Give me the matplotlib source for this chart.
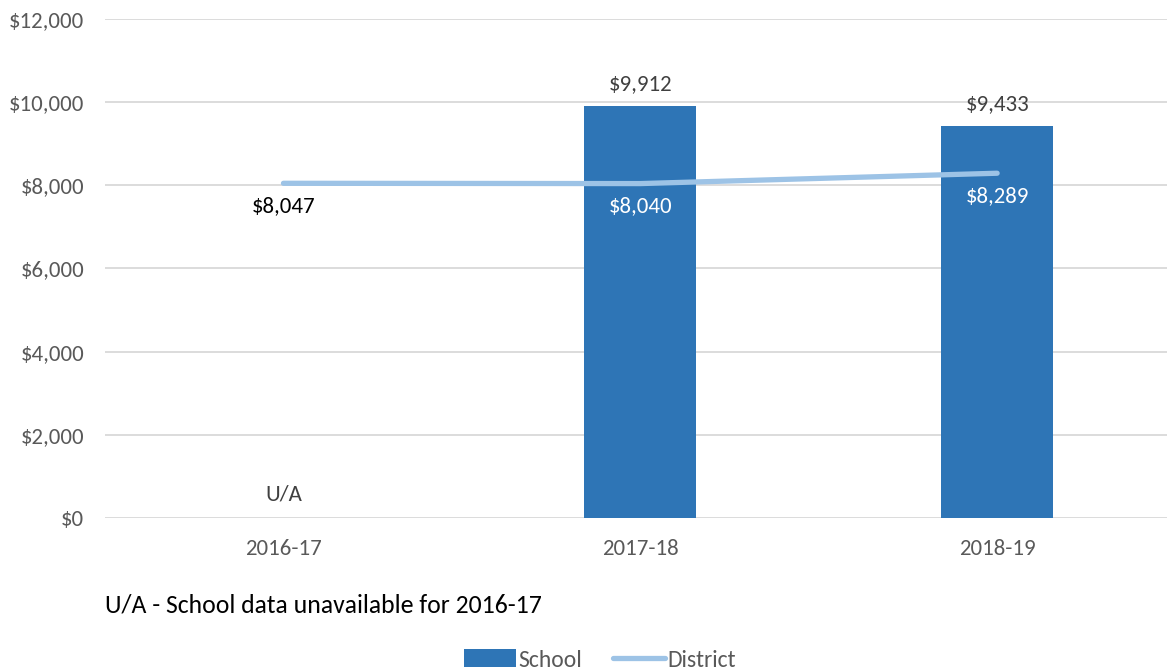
import matplotlib
matplotlib.use("Agg")
import matplotlib.pyplot as plt
import numpy as np

plt.rcParams['font.family'] = ['Carlito', 'Lato', 'DejaVu Sans']

years = ["2016-17", "2017-18", "2018-19"]
school = [np.nan, 9912, 9433]
district = [8047, 8040, 8289]
yticks = [0, 2000, 4000, 6000, 8000, 10000, 12000]

bar_color = "#2E75B6"
line_color = "#9DC3E6"

fig = plt.figure(figsize=(11.67, 6.72), dpi=100)
ax = fig.add_axes([0.09, 0.229, 0.91, 0.743])

x = np.arange(len(years))
bars = ax.bar(x, school, width=0.314, color=bar_color, label="School", zorder=2)
line, = ax.plot(x, district, color=line_color, lw=3.8, solid_capstyle="round", label="District", zorder=3)

for xi, v in zip(x, school):
    if np.isnan(v):
        ax.text(xi, 330, "U/A", ha="center", va="bottom", fontsize=16.5, color="#404040")
    else:
        ax.annotate(f"${v:,.0f}", (xi, v), xytext=(0, 8), textcoords="offset points",
                    ha="center", va="bottom", fontsize=16.5, color="#404040")

for xi, v in zip(x, district):
    c = "black" if np.isnan(school[xi]) else "white"
    ax.annotate(f"${v:,.0f}", (xi, v), xytext=(0, -9), textcoords="offset points",
                ha="center", va="top", fontsize=16.5, color=c)

ax.set_xlim(-0.5, 2.476)
ax.set_ylim(0, 12000)
ax.set_yticks(yticks)
ax.set_yticklabels([f"${t:,}" for t in yticks])
ax.set_xticks(x)
ax.set_xticklabels(years)
ax.tick_params(length=0, labelsize=16.5, colors="#595959")
ax.tick_params(axis="x", pad=15)
ax.tick_params(axis="y", pad=15)
ax.grid(axis="y", color="#D9D9D9", lw=1.3, zorder=0)
for s in ax.spines.values():
    s.set_visible(False)

fig.text(0.09, 0.10, "U/A - School data unavailable for 2016-17", fontsize=18.5, color="black", va="center")

fig.legend([bars, line], ["School", "District"], loc="center", bbox_to_anchor=(0.514, 0.018),
           ncol=2, frameon=False, fontsize=17, handlelength=2.2, handleheight=0.8,
           columnspacing=1.3, handletextpad=0.1, labelcolor="#595959")

fig.savefig("out.png", dpi=100)
